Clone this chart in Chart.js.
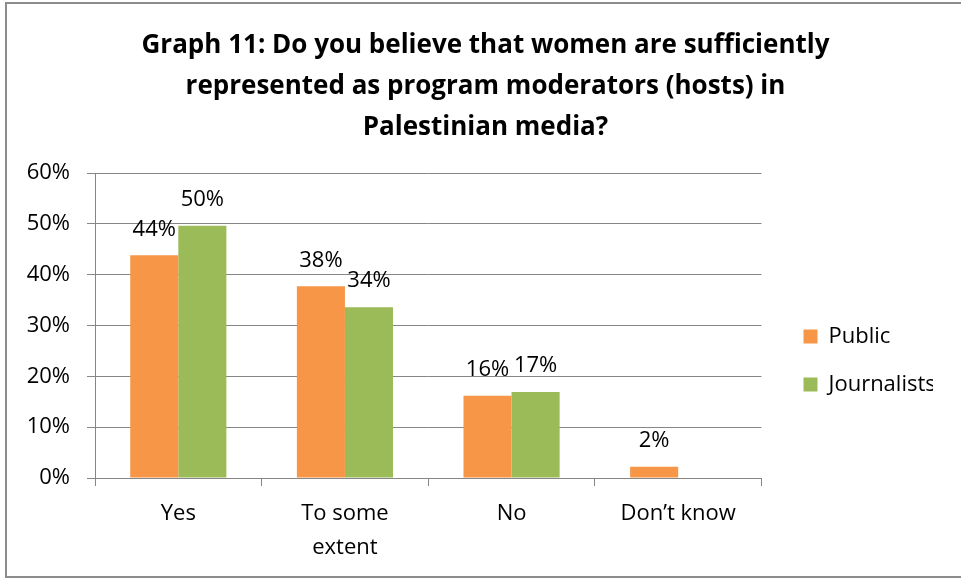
<!DOCTYPE html>
<html>
<head>
<meta charset="utf-8">
<script src="https://cdn.jsdelivr.net/npm/chart.js@4"></script>
<style>
    body { margin: 0; overflow: hidden; background: #fff; }
    #wrap { position: relative; width: 961px; height: 578px; }
    #chart { position: absolute; left: 0; top: 0; }
    #frame {
        position: absolute; left: 5px; top: 2px;
        width: 1000px; height: 572px;
        border: 2px solid #8c8c8c;
        pointer-events: none;
    }
</style>
</head>
<body>
<div id="wrap">
    <canvas id="chart" width="961" height="578"></canvas>
    <div id="frame"></div>
</div>
<script>
const categories = ['Yes', ['To some', 'extent'], 'No', 'Don\u2019t know'];
const publicValues = [43.8, 37.7, 16.2, 2.2];
const journalistValues = [49.6, 33.6, 16.9, null];
const yTicks = [0, 10, 20, 30, 40, 50, 60];

const FONT = '"Open Sans", Lato, sans-serif';
const GRID = '#868686';
const TEXT_SIZE = 22;

// value labels above every bar
const barLabels = {
    id: 'barLabels',
    afterDatasetsDraw(chart) {
        const ctx = chart.ctx;
        ctx.save();
        ctx.font = TEXT_SIZE + 'px ' + FONT;
        ctx.fillStyle = '#000';
        ctx.textAlign = 'center';
        ctx.textBaseline = 'middle';
        chart.data.datasets.forEach((ds, i) => {
            chart.getDatasetMeta(i).data.forEach((bar, j) => {
                const v = ds.data[j];
                if (v == null) return;
                ctx.fillText(Math.round(v) + '%', bar.x, bar.y - 26);
            });
        });
        ctx.restore();
    }
};

// title sits centred on the whole frame, legend a bit below the plot middle
const boxNudge = {
    id: 'boxNudge',
    afterLayout(chart) {
        chart.titleBlock.left += 19;
        chart.titleBlock.right += 19;
        chart.legend.top += 35;
        chart.legend.bottom += 35;
    }
};

function drawChart() {
    new Chart(document.getElementById('chart'), {
        type: 'bar',
        data: {
            labels: categories,
            datasets: [
                { label: 'Public', data: publicValues, backgroundColor: '#F79646' },
                { label: 'Journalists', data: journalistValues, backgroundColor: '#9BBB59' }
            ]
        },
        options: {
            responsive: false,
            animation: false,
            layout: { padding: { left: 0, right: 28, top: 0, bottom: 0 } },
            datasets: { bar: { categoryPercentage: 0.577, barPercentage: 1 } },
            plugins: {
                title: {
                    display: true,
                    text: [
                        'Graph 11: Do you believe that women are sufficiently',
                        'represented as program moderators (hosts) in',
                        'Palestinian media?'
                    ],
                    color: '#000',
                    font: { family: FONT, size: 26, weight: 'bold', lineHeight: 41 / 26 },
                    padding: { top: 25, bottom: 25 }
                },
                legend: {
                    position: 'right',
                    fullSize: false,
                    labels: {
                        color: '#000',
                        font: { family: FONT, size: TEXT_SIZE },
                        boxWidth: 14,
                        boxHeight: 14,
                        padding: 26
                    }
                },
                tooltip: { enabled: false }
            },
            scales: {
                x: {
                    grid: { color: GRID, drawOnChartArea: false, drawTicks: true, tickLength: 8 },
                    border: { color: GRID },
                    ticks: {
                        color: '#000',
                        padding: 11,
                        maxRotation: 0,
                        font: { family: FONT, size: TEXT_SIZE, lineHeight: 33.6 / TEXT_SIZE }
                    },
                    afterFit(scale) { scale.height = 100; }
                },
                y: {
                    min: 0,
                    max: 60,
                    afterBuildTicks(scale) { scale.ticks = yTicks.map(v => ({ value: v })); },
                    grid: { color: GRID, tickLength: 8 },
                    border: { color: GRID },
                    ticks: {
                        color: '#000',
                        padding: 17,
                        font: { family: FONT, size: TEXT_SIZE },
                        callback: v => v + '%'
                    },
                    afterFit(scale) { scale.width = 95; }
                },
                // empty strip between plot and legend
                gap: {
                    type: 'linear',
                    position: 'right',
                    display: true,
                    grid: { display: false },
                    border: { display: false },
                    ticks: { display: false },
                    afterFit(scale) { scale.width = 16; }
                }
            }
        },
        plugins: [barLabels, boxNudge]
    });
}

// make sure the canvas measures text with the real face
document.fonts.load(TEXT_SIZE + 'px "Open Sans"').then(drawChart, drawChart);
</script>
</body>
</html>
